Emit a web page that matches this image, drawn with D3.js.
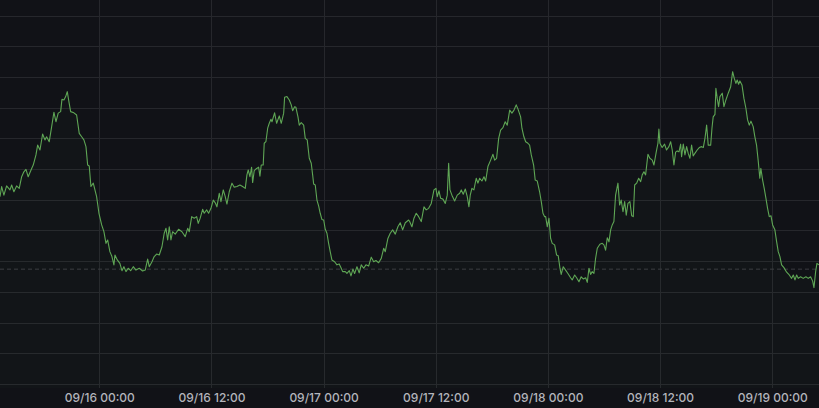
<!DOCTYPE html>
<html>
<head>
<meta charset="utf-8">
<script src="https://cdn.jsdelivr.net/npm/d3@7"></script>
<style>
  html, body { margin: 0; padding: 0; background: #111217; }
  svg { display: block; }
</style>
</head>
<body>
<svg id="chart" width="819" height="408"></svg>
<script>
// ---- data ----
// hours relative to 2023-09-16 00:00
const hours = [
-10.62,-10.44,-10.20,-9.91,-9.55,-9.37,-9.13,-8.84,-8.56,-8.30,-8.06,-7.84,-7.60,-7.23,-7.06,-6.77,-6.59,-6.34,-6.06,-5.81,-5.63,-5.35,-5.09,-4.85,-4.63,-4.39,-4.13,-3.99,-3.78,-3.59,-3.42,-3.24,-3.06,-2.71,-2.42,-2.14,-1.88,-1.64,-1.42,-1.24,-1.07,-0.89,-0.64,-0.28,-0.03,0.26,0.50,0.72,0.90,1.14,1.36,1.57,1.68,1.93,2.21,2.43,2.64,2.86,3.10,3.36,3.64,3.93,
4.28,4.64,4.92,5.18,5.35,5.64,5.88,6.14,6.42,6.71,6.95,7.14,7.32,7.49,7.67,7.85,8.13,8.49,8.85,9.20,9.46,9.63,9.89,10.16,10.42,10.59,10.80,11.06,11.23,11.49,11.70,11.95,12.20,12.41,12.59,12.84,13.02,13.27,13.48,13.66,13.91,14.20,14.44,14.73,15.05,15.34,15.62,15.80,15.94,16.12,16.30,16.41,16.58,16.84,17.05,17.19,17.33,17.54,17.65,17.83,18.02,18.19,18.37,
18.48,18.76,18.98,19.26,19.47,19.73,19.83,20.08,20.33,20.54,20.69,20.90,21.04,21.26,21.40,21.61,21.87,22.04,22.25,22.47,22.68,22.83,22.94,23.11,23.29,23.47,23.64,23.82,24.01,24.18,24.36,24.54,24.71,24.89,25.18,25.43,25.67,25.89,26.04,26.32,26.50,26.75,26.93,27.14,27.32,27.57,27.81,28.03,28.29,28.53,28.82,29.10,29.36,29.60,29.89,30.17,30.43,30.60,30.88,31.13,31.39,31.67,31.95,32.20,32.46,32.74,33.10,
33.21,33.45,33.67,33.91,34.17,34.45,34.74,34.98,35.24,35.52,35.81,36.02,36.16,36.34,36.52,36.77,37.02,37.23,37.38,37.52,37.73,38.02,38.30,38.56,38.73,38.94,39.16,39.37,39.55,39.69,39.87,40.08,40.33,40.51,40.70,40.94,41.16,41.34,41.58,41.87,42.12,42.30,42.51,42.73,42.94,43.19,43.43,43.65,43.91,44.15,44.37,44.61,44.79,45.08,45.22,45.43,45.62,45.86,46.04,46.22,46.47,46.64,46.86,47.11,47.29,47.47,47.65,
47.76,47.93,48.11,48.29,48.46,48.72,48.93,49.10,49.29,49.42,49.64,49.89,50.14,50.43,50.60,50.86,51.07,51.32,51.56,51.78,52.04,52.21,52.39,52.57,52.74,52.92,53.10,53.28,53.56,53.81,53.99,54.17,54.35,54.53,54.71,54.88,55.06,55.24,55.49,55.67,55.84,56.03,56.21,56.38,56.56,56.77,56.96,57.13,57.28,57.49,57.71,57.92,58.09,58.27,58.45,58.70,58.91,59.16,59.34,59.59,59.77,59.87,59.98,60.22,60.48,60.69,60.94,61.13,61.30,61.48,61.66,61.83,62.02,62.20,
62.30,62.48,62.66,62.84,63.01,63.19,63.37,63.54,63.72,63.97,64.19,64.44,64.62,64.80,64.98,65.15,65.41,65.55,65.68,65.87,65.97,66.11,66.26,66.40,66.65,66.83,67.04,67.29,67.55,67.76,67.93,68.11,68.25,68.40,68.54,68.76,68.97,69.18,69.36,69.54,69.72,69.96,70.14,70.32,70.49,70.67,70.78,70.97,71.14,71.32,71.50,71.68,71.86,72.04,72.28,72.47,72.64,72.82,73.00,73.25,73.54,73.82,74.07,74.25,74.43,74.61,74.78,75.03,75.31,75.60,75.85,76.10,76.32,76.46,76.64,76.78,76.99
];
const values = [
61.0,64.3,61.5,64.5,63.2,64.8,62.6,64.5,63.7,67.5,69.1,69.9,67.5,70.2,71.3,74.6,77.8,76.2,81.4,79.5,80.5,78.9,83.8,88.5,85.4,88.2,88.7,92.7,92.5,93.6,95.2,91.9,88.7,88.3,87.6,81.6,80.5,79.5,77.3,71.3,71.0,64.3,65.4,61.0,55.6,51.8,49.6,45.8,46.9,43.1,41.5,38.8,42.0,40.4,39.3,36.9,38.2,36.6,37.7,36.9,38.2,37.1,
37.7,36.8,37.1,40.7,38.2,39.8,41.5,42.3,42.0,44.7,49.1,50.7,46.9,51.2,46.9,49.6,48.8,50.4,49.6,48.0,50.7,49.6,54.5,54.0,54.5,52.3,54.0,56.9,55.6,56.7,55.6,57.2,59.9,59.0,57.7,62.1,59.4,63.2,61.0,58.6,62.6,65.4,64.1,64.3,64.8,64.3,63.7,68.1,69.7,67.5,70.6,65.6,69.5,70.2,70.6,67.7,71.3,71.3,78.4,78.9,83.3,84.9,86.2,
85.4,88.3,84.9,87.3,84.9,88.2,93.4,93.6,92.5,90.9,89.0,90.3,90.1,87.0,84.3,85.1,84.3,80.0,79.5,73.5,71.9,68.1,65.1,64.8,59.9,58.0,55.6,53.6,53.4,50.4,49.1,45.8,43.1,40.4,39.8,38.8,39.1,37.7,36.6,36.6,36.0,36.9,35.2,37.4,36.0,38.2,36.2,38.8,37.7,38.8,38.4,41.3,39.8,40.2,39.5,40.9,44.2,43.1,47.4,49.1,50.2,48.8,51.2,52.5,50.2,52.5,53.4,
52.9,51.2,54.0,55.6,54.5,52.9,57.7,56.7,57.2,58.8,63.2,63.7,61.0,62.9,60.5,60.2,58.8,61.5,71.9,63.2,61.5,59.6,61.5,62.1,63.2,61.8,63.5,61.0,57.7,61.5,63.7,63.2,67.0,65.4,67.0,66.1,67.5,66.1,70.8,72.9,74.8,72.9,73.5,80.0,82.7,83.5,85.4,84.3,89.2,88.2,89.2,90.9,89.6,87.0,83.3,80.5,78.9,78.4,77.8,74.6,71.3,66.4,66.1,62.6,59.4,55.6,54.5,
54.5,51.2,54.0,47.4,45.8,45.3,42.0,41.8,37.7,35.7,38.2,37.1,36.0,34.6,33.9,35.5,34.6,33.3,34.9,34.2,34.6,33.1,37.7,35.7,36.6,36.0,40.9,44.2,45.5,45.8,45.3,43.6,47.6,46.3,50.2,51.8,52.9,61.5,65.4,58.3,59.9,56.1,59.4,55.0,58.8,59.4,54.8,54.5,64.8,65.4,67.0,65.9,68.1,69.1,68.1,74.8,73.5,72.9,71.3,75.6,78.4,83.0,78.4,77.0,78.1,76.2,77.3,78.9,76.2,71.3,75.5,75.9,75.6,78.1,
74.0,78.1,74.6,77.3,75.1,73.5,77.8,74.3,75.1,76.2,77.0,77.3,77.0,80.0,84.3,77.8,77.8,83.3,87.0,87.8,96.3,93.0,90.3,93.6,94.7,90.3,92.5,94.7,96.8,101.7,99.6,97.9,99.0,97.6,98.7,97.4,93.0,89.8,86.0,84.3,85.6,83.8,80.5,77.8,72.9,67.0,70.2,66.4,63.7,60.5,57.2,54.5,54.8,51.8,50.2,46.3,43.1,41.5,38.8,37.9,36.4,35.5,34.4,35.5,33.9,35.5,34.4,34.9,34.4,34.9,34.4,34.9,33.5,31.4,36.6,39.3,38.8
];
const threshold = 37.4;
const yTicks = [0,10,20,30,40,50,60,70,80,90,100,110,120];
const baseTime = new Date(2023, 8, 16, 0, 0);
const timeStart = new Date(2023, 8, 15, 13, 23);
const timeEnd = new Date(2023, 8, 19, 5, 0);

// ---- layout ----
const W = 819, H = 408;
const plotBottom = 388;
const svg = d3.select("#chart");
svg.append("rect").attr("width", W).attr("height", H).attr("fill", "#111217");

const x = d3.scaleTime().domain([timeStart, timeEnd]).range([0, W]);
const y = d3.scaleLinear().domain([0, 120]).range([384, 15.5]);

const data = hours.map((h, i) => ({ t: new Date(baseTime.getTime() + h * 3600e3), v: values[i] }));

// horizontal grid
svg.append("g").selectAll("line").data(yTicks).join("line")
  .attr("x1", 0).attr("x2", W)
  .attr("y1", d => Math.round(y(d)) + 0.5).attr("y2", d => Math.round(y(d)) + 0.5)
  .attr("stroke", "#26272c").attr("stroke-width", 1);

// vertical grid + labels via axis
const xTicks = x.ticks(d3.timeHour.every(12));
const fmt = d3.timeFormat("%m/%d %H:%M");
svg.append("g").selectAll("line").data(xTicks).join("line")
  .attr("x1", d => Math.round(x(d)) + 0.5).attr("x2", d => Math.round(x(d)) + 0.5)
  .attr("y1", 0).attr("y2", plotBottom)
  .attr("stroke", "#26272c").attr("stroke-width", 1);

const axis = d3.axisBottom(x).tickValues(xTicks).tickFormat(fmt).tickSize(0).tickPadding(0);
const ag = svg.append("g").attr("transform", `translate(0, ${plotBottom})`).call(axis);
ag.select(".domain").remove();
ag.selectAll("text")
  .attr("dy", null).attr("y", 14)
  .attr("fill", "#b4b5bc")
  .style("font-family", "Inter, 'Noto Sans', sans-serif")
  .style("font-size", "12px")
  .style("font-weight", "500");

// threshold dashed line
svg.append("line")
  .attr("x1", 0).attr("x2", W)
  .attr("y1", y(threshold)).attr("y2", y(threshold))
  .attr("stroke", "#3b3c42").attr("stroke-width", 1)
  .attr("stroke-dasharray", "4,3");

// clip
svg.append("clipPath").attr("id", "clip").append("rect")
  .attr("x", 0).attr("y", 0).attr("width", W).attr("height", plotBottom);

const area = d3.area().x(d => x(d.t)).y0(plotBottom).y1(d => y(d.v));
const line = d3.line().x(d => x(d.t)).y(d => y(d.v));

const g = svg.append("g").attr("clip-path", "url(#clip)");
g.append("path").datum(data).attr("d", area).attr("fill", "#73bf69").attr("fill-opacity", 0.02);
g.append("path").datum(data).attr("d", line)
  .attr("fill", "none").attr("stroke", "#5fa655").attr("stroke-width", 1.1)
  .attr("stroke-linejoin", "round");
</script>
</body>
</html>
